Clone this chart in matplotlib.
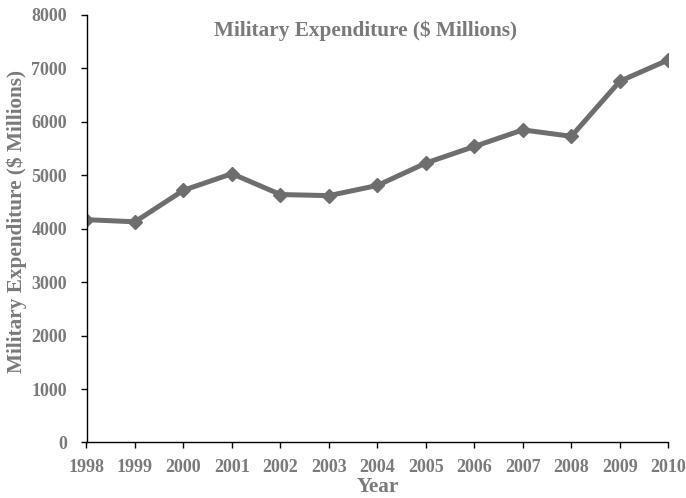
import matplotlib
matplotlib.use("Agg")
import matplotlib.pyplot as plt

years = [1998, 1999, 2000, 2001, 2002, 2003, 2004, 2005, 2006, 2007, 2008, 2009, 2010]
expenditure = [4170, 4130, 4720, 5030, 4640, 4620, 4810, 5230, 5540, 5850, 5730, 6760, 7160]
yticks = [0, 1000, 2000, 3000, 4000, 5000, 6000, 7000, 8000]

plt.rcParams['font.family'] = ['Liberation Serif', 'DejaVu Serif']
plt.rcParams['font.weight'] = 'bold'
plt.rcParams['axes.labelweight'] = 'bold'
text_color = '#7a7a7a'
line_color = '#6e6e6e'

fig = plt.figure(figsize=(6.86, 4.98), dpi=100)
ax = fig.add_axes([86.5/686, 1 - 442.5/498, (668.3-86.5)/686, (442.5-15)/498])

ax.plot(years, expenditure, color=line_color, linewidth=3.6, marker='D', markersize=7.5,
        markerfacecolor=line_color, markeredgecolor=line_color)

ax.set_xlim(years[0], years[-1])
ax.set_ylim(0, 8000)
ax.set_xticks(years)
ax.set_xticklabels([str(y) for y in years], fontweight='bold')
ax.set_yticks(yticks)
ax.set_yticklabels([str(v) for v in yticks], fontweight='bold')

for s in ['top', 'right']:
    ax.spines[s].set_visible(False)
for s in ['left', 'bottom']:
    ax.spines[s].set_color('#000000')
    ax.spines[s].set_linewidth(1.0)

ax.tick_params(axis='both', direction='out', length=4, width=1, colors='#000000',
               labelcolor=text_color, labelsize=13)
ax.tick_params(axis='x', pad=8)
ax.tick_params(axis='y', pad=10)

ax.set_xlabel('Year', fontsize=15.3, fontweight='bold', color=text_color)
ax.xaxis.set_label_coords(0.5, -0.104)
ax.xaxis.label.set_verticalalignment('center')
ax.set_ylabel('Military Expenditure ($ Millions)', fontsize=15.3, fontweight='bold', color=text_color)
ax.yaxis.set_label_coords(-0.102, 0.518)
ax.text(0.48, 0.963, 'Military Expenditure ($ Millions)', transform=ax.transAxes,
        ha='center', va='center', fontsize=15.3, fontweight='bold', color=text_color)

fig.savefig('out.png', dpi=100)
